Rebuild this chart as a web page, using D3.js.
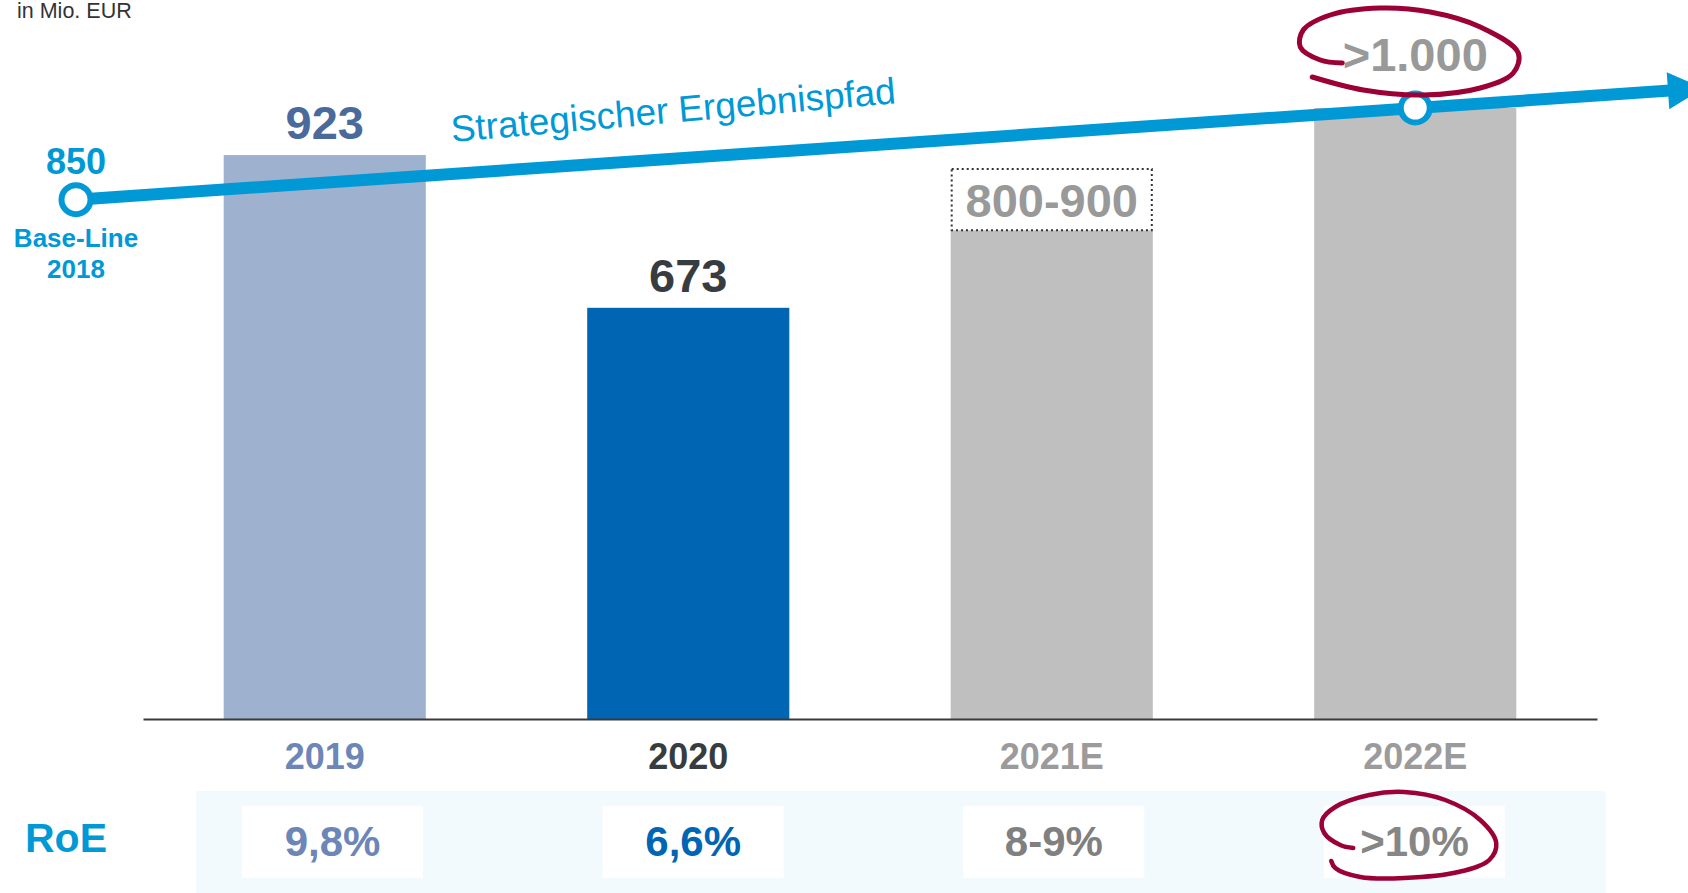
<!DOCTYPE html>
<html>
<head>
<meta charset="utf-8">
<script src="https://cdnjs.cloudflare.com/ajax/libs/d3/7.8.5/d3.min.js"></script>
<style>
  html, body { margin: 0; padding: 0; background: #fff; }
  svg { display: block; font-family: 'Liberation Sans', Arial, sans-serif; }
</style>
</head>
<body>
<div id="chart"></div>
<script>
// Ergebnis in Mio. EUR
const years = ['2019', '2020', '2021E', '2022E'];
const results = [923, 673, 800, 1000];
const resultRangeTop = [null, null, 900, null];
const resultLabels = ['923', '673', '800-900', '>1.000'];
const roeLabels = ['9,8%', '6,6%', '8-9%', '>10%'];
const baseLineValue = 850;   // Base-Line 2018
const pathTargetValue = 1000; // strategischer Pfad bis 2022E
const pathTargetYear = '2022E';

const barColors = ['#9EB1CE', '#0066B3', '#BFBFBF', '#BFBFBF'];
const labelColors = ['#4A6A9C', '#373C41', '#999999', '#999999'];
const yearColors = ['#6C86B8', '#373C41', '#9B9B9B', '#9B9B9B'];
const roeColors = ['#6C86B8', '#0066B3', '#808080', '#868686'];
const pathColor = '#0099D6';
const markColor = '#9B0037';

function renderChart() {
  const width = 1688;
  const height = 893;

  const svg = d3.select('#chart').append('svg')
    .attr('width', width)
    .attr('height', height);

  const x = d3.scaleBand()
    .domain(years)
    .range([143, 1597])
    .paddingInner(0.444)
    .paddingOuter(0.222);

  const y = d3.scaleLinear()
    .domain([0, 1000])
    .range([719, 108]);

  // RoE row sits slightly off the bar grid
  const roeX = d3.scalePoint()
    .domain(years)
    .range([332.5, 1414.5]);

  const cx = d => x(d) + x.bandwidth() / 2;

  svg.append('text')
    .attr('x', 17)
    .attr('y', 18)
    .attr('font-size', '21.5px')
    .attr('fill', '#333')
    .text('in Mio. EUR');

  // bars
  svg.selectAll('rect.bar')
    .data(years)
    .enter().append('rect')
    .attr('class', 'bar')
    .attr('x', d => x(d))
    .attr('y', (d, i) => y(results[i]))
    .attr('width', x.bandwidth())
    .attr('height', (d, i) => y(0) - y(results[i]))
    .attr('fill', (d, i) => barColors[i]);

  // dotted range box (800-900)
  years.forEach((d, i) => {
    if (resultRangeTop[i] == null) return;
    svg.append('rect')
      .attr('x', x(d) + 1)
      .attr('y', y(resultRangeTop[i]))
      .attr('width', x.bandwidth() - 2)
      .attr('height', y(results[i]) - y(resultRangeTop[i]))
      .attr('fill', '#fff')
      .attr('stroke', '#333')
      .attr('stroke-width', 2)
      .attr('stroke-dasharray', '2,3');
  });

  // x axis
  const axis = svg.append('g')
    .attr('transform', `translate(0,${y(0)})`)
    .call(d3.axisBottom(x).tickSize(0).tickSizeOuter(0).tickPadding(24));
  axis.select('.domain').attr('stroke', '#3a3a3a').attr('stroke-width', 2);
  axis.selectAll('.tick text')
    .attr('font-size', '36px')
    .attr('font-weight', '700')
    .attr('font-family', "'Liberation Sans', Arial, sans-serif")
    .attr('fill', (d, i) => yearColors[i]);

  // strategic path line
  const x0 = 76;
  const x1 = cx(pathTargetYear);
  const valAt = px => baseLineValue + (pathTargetValue - baseLineValue) * (px - x0) / (x1 - x0);
  const arrowX = 1668;
  const angle = Math.atan2(y(valAt(arrowX)) - y(baseLineValue), arrowX - x0) * 180 / Math.PI;

  svg.append('line')
    .attr('x1', x0).attr('y1', y(baseLineValue))
    .attr('x2', arrowX + 2).attr('y2', y(valAt(arrowX + 2)))
    .attr('stroke', pathColor)
    .attr('stroke-width', 12);

  svg.append('path')
    .attr('d', 'M0,-18.5L36,0L0,18.5Z')
    .attr('transform', `translate(${arrowX},${y(valAt(arrowX))}) rotate(${angle})`)
    .attr('fill', pathColor);

  svg.append('text')
    .attr('transform', `translate(452,142) rotate(-5)`)
    .attr('font-size', '37px')
    .attr('fill', pathColor)
    .text('Strategischer Ergebnispfad');

  [[x0, baseLineValue], [x1, pathTargetValue]].forEach(([px, v]) => {
    svg.append('circle')
      .attr('cx', px)
      .attr('cy', y(v))
      .attr('r', 14.5)
      .attr('fill', '#fff')
      .attr('stroke', pathColor)
      .attr('stroke-width', 6);
  });

  // Base-Line 2018 labels
  svg.append('text')
    .attr('x', x0).attr('y', y(baseLineValue) - 26)
    .attr('text-anchor', 'middle')
    .attr('font-size', '36px').attr('font-weight', '700')
    .attr('fill', pathColor)
    .text(String(baseLineValue));
  ['Base-Line', '2018'].forEach((t, i) => {
    svg.append('text')
      .attr('x', x0).attr('y', y(baseLineValue) + 47 + i * 31)
      .attr('text-anchor', 'middle')
      .attr('font-size', '26px').attr('font-weight', '700')
      .attr('fill', pathColor)
      .text(t);
  });

  // value labels
  years.forEach((d, i) => {
    let ly;
    if (resultRangeTop[i] != null) ly = (y(results[i]) + y(resultRangeTop[i])) / 2 + 17;
    else if (d === pathTargetYear) ly = y(results[i]) - 37;
    else ly = y(results[i]) - 16;
    svg.append('text')
      .attr('x', cx(d))
      .attr('y', ly)
      .attr('text-anchor', 'middle')
      .attr('font-size', '47px')
      .attr('font-weight', '700')
      .attr('fill', labelColors[i])
      .text(resultLabels[i]);
  });

  // RoE row
  svg.append('rect')
    .attr('x', 196).attr('y', 791)
    .attr('width', 1410).attr('height', 110)
    .attr('fill', '#F2FAFE');

  svg.append('text')
    .attr('x', 25).attr('y', 852)
    .attr('font-size', '41px').attr('font-weight', '700')
    .attr('fill', pathColor)
    .text('RoE');

  years.forEach((d, i) => {
    svg.append('rect')
      .attr('x', roeX(d) - 90.5).attr('y', 806)
      .attr('width', 181).attr('height', 72)
      .attr('fill', '#fff');
    svg.append('text')
      .attr('x', roeX(d)).attr('y', 856)
      .attr('text-anchor', 'middle')
      .attr('font-size', '42px').attr('font-weight', '700')
      .attr('fill', roeColors[i])
      .text(roeLabels[i]);
  });

  // hand-drawn highlight loops (offsets relative to label anchor)
  const loopTop = [[-73, -8], [-95, -11], [-115, -24], [-112, -41], [-85, -56], [-35, -63], [15, -59],
    [65, -44], [103, -18], [98, 2], [65, 17], [8, 24], [-52, 19], [-103, 6]];
  const loopRoe = [[-62, -8], [-75, -11], [-91, -23], [-93, -36], [-80, -49], [-46, -61], [-11, -64],
    [30, -56], [65, -36], [81, -13], [74, 4], [43, 16], [-11, 22], [-55, 21], [-80, 12], [-84, 5]];
  const loopLine = d3.line().curve(d3.curveCatmullRom.alpha(0.5));

  const tx = cx(pathTargetYear);
  svg.append('path')
    .attr('d', loopLine(loopTop.map(([dx, dy]) => [tx + dx, y(pathTargetValue) - 37 + dy])))
    .attr('fill', 'none')
    .attr('stroke', markColor)
    .attr('stroke-width', 5)
    .attr('stroke-linecap', 'round');
  svg.append('path')
    .attr('d', loopLine(loopRoe.map(([dx, dy]) => [tx + dx, 856 + dy])))
    .attr('fill', 'none')
    .attr('stroke', markColor)
    .attr('stroke-width', 4.5)
    .attr('stroke-linecap', 'round');
}

renderChart();
</script>
</body>
</html>
